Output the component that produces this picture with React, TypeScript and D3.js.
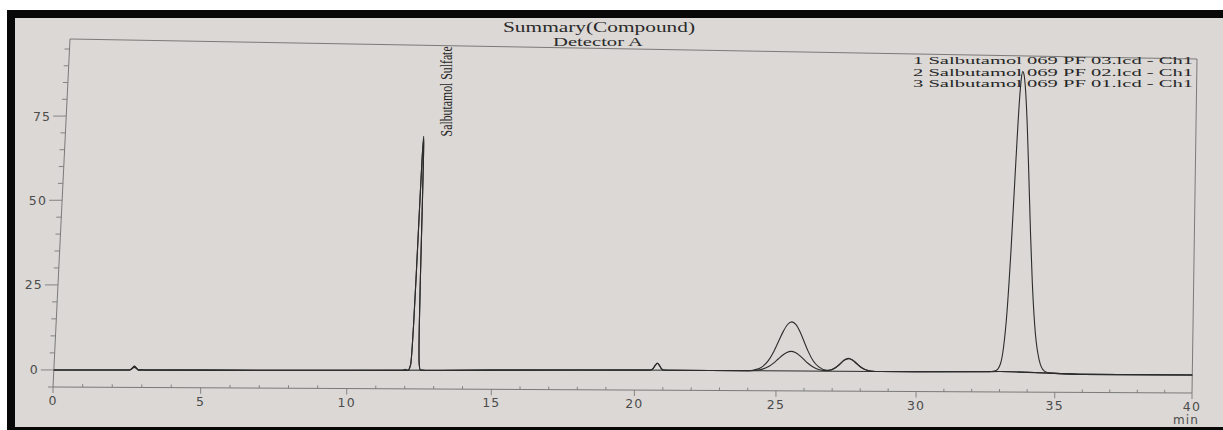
import React, { useEffect, useRef } from 'react';
import * as d3 from 'd3';

type Pt = [number, number];

// [retention time (min), signal]
const trace03: Pt[] = [
  [0, 0.0], [1.5, 0.05], [2.55, 0.1], [2.65, 0.7], [2.72, 1.3], [2.8, 0.6], [2.88, 0.1], [2.96, 0.3], [3.05, 0.12],
  [5, 0.2], [8, 0.3], [10, 0.4], [11.9, 0.5], [12.0, 0.8], [12.07, 0.5],
  [12.17, 2.2], [12.22, 14], [12.245, 28], [12.27, 47], [12.295, 63.5], [12.32, 70.5], [12.345, 63.5], [12.37, 47],
  [12.395, 28], [12.42, 14], [12.47, 2.2], [12.52, 0.6], [12.7, 0.5],
  [15, 0.7], [18, 0.9], [20.45, 1.0], [20.55, 1.05], [20.63, 1.45], [20.7, 2.4], [20.78, 3.1], [20.86, 2.4],
  [20.93, 1.45], [21.01, 1.05], [21.3, 1.0], [24.0, 1.0],
  [24.2, 1.22], [24.5, 2.26], [24.7, 4.05], [24.9, 7.08], [25.05, 9.98], [25.2, 12.84], [25.35, 15.0], [25.5, 15.8],
  [25.65, 15.0], [25.8, 12.84], [25.95, 9.98], [26.1, 7.08], [26.3, 4.05], [26.5, 2.26], [26.8, 1.25],
  [26.95, 1.45], [27.1, 2.1], [27.25, 3.2], [27.4, 4.4], [27.55, 4.9], [27.7, 4.45], [27.85, 3.4], [28.0, 2.3],
  [28.15, 1.6], [28.35, 1.15], [28.7, 1.0], [30, 1.0], [32.5, 1.1], [32.71, 1.2], [32.86, 1.5],
  [33.01, 3.4], [33.11, 8.2], [33.21, 18.8], [33.31, 37.5], [33.41, 62.1], [33.51, 84.2], [33.56, 90.9], [33.61, 93.2],
  [33.66, 92.1], [33.71, 88.8], [33.81, 76.9], [33.91, 60.5], [34.01, 43.3], [34.11, 28.3], [34.26, 12.6],
  [34.41, 4.9], [34.61, 1.4], [34.81, 0.8], [36, 0.5], [40, 0.5],
];

const trace02: Pt[] = [
  [0, 0.0], [1.5, 0.05], [2.55, 0.1], [2.65, 0.6], [2.72, 1.2], [2.8, 0.55], [2.88, 0.1], [2.96, 0.25], [3.05, 0.12],
  [5, 0.2], [8, 0.3], [10, 0.4], [12.1, 0.5],
  [12.17, 2.1], [12.22, 13.8], [12.245, 27.7], [12.27, 46.5], [12.295, 62.9], [12.32, 69.8], [12.345, 62.9], [12.37, 46.5],
  [12.395, 27.7], [12.42, 13.8], [12.47, 2.1], [12.52, 0.6], [12.7, 0.5],
  [15, 0.7], [18, 0.9], [20.45, 1.0], [20.55, 1.05], [20.63, 1.4], [20.7, 2.3], [20.78, 3.0], [20.86, 2.3],
  [20.93, 1.4], [21.01, 1.05], [21.3, 1.0], [24.0, 1.0],
  [24.2, 1.09], [24.5, 1.5], [24.7, 2.22], [24.9, 3.42], [25.05, 4.58], [25.2, 5.72], [25.35, 6.58], [25.5, 6.9],
  [25.65, 6.58], [25.8, 5.72], [25.95, 4.58], [26.1, 3.42], [26.3, 2.22], [26.5, 1.5], [26.8, 1.15],
  [26.95, 1.4], [27.1, 2.05], [27.25, 3.1], [27.4, 4.3], [27.55, 4.8], [27.7, 4.35], [27.85, 3.3], [28.0, 2.25],
  [28.15, 1.55], [28.35, 1.15], [28.7, 1.0], [30, 1.0], [32.5, 1.1], [33.0, 1.2], [34.0, 1.0], [34.8, 0.8],
  [36, 0.5], [40, 0.5],
];

const trace01: Pt[] = [
  [0, 0.0], [2.55, 0.1], [2.72, 0.9], [2.88, 0.1], [5, 0.2], [10, 0.4], [15, 0.7], [20, 1.0], [24, 1.0],
  [30, 1.0], [33, 1.2], [34.8, 0.8], [36, 0.5], [40, 0.5],
];

const legendLabels = [
  '1 Salbutamol 069 PF 03.lcd - Ch1',
  '2 Salbutamol 069 PF 02.lcd - Ch1',
  '3 Salbutamol 069 PF 01.lcd - Ch1',
];
const xTickLabels = [0, 5, 10, 15, 20, 25, 30, 35, 40];
const yTickLabels = [0, 25, 50, 75];
const peakName = 'Salbutamol Sulfate';

const W = 1223;
const H = 430;

// the page was photographed a bit off-square, so the plot frame is a quad
const TL: Pt = [70, 39];
const TR: Pt = [1197, 59];
const BR: Pt = [1192, 393];
const BL: Pt = [53, 387];

// unit square -> quad (projective)
function makeWarp(p0: Pt, p1: Pt, p2: Pt, p3: Pt) {
  const [x0, y0] = p0, [x1, y1] = p1, [x2, y2] = p2, [x3, y3] = p3;
  const dx1 = x1 - x2, dx2 = x3 - x2, dx3 = x0 - x1 + x2 - x3;
  const dy1 = y1 - y2, dy2 = y3 - y2, dy3 = y0 - y1 + y2 - y3;
  const den = dx1 * dy2 - dx2 * dy1;
  const g = (dx3 * dy2 - dx2 * dy3) / den;
  const h = (dx1 * dy3 - dx3 * dy1) / den;
  const a = x1 - x0 + g * x1, b = x3 - x0 + h * x3;
  const d = y1 - y0 + g * y1, e = y3 - y0 + h * y3;
  return (u: number, v: number): Pt => {
    const w = g * u + h * v + 1;
    return [(a * u + b * v + x0) / w, (d * u + e * v + y0) / w];
  };
}

const App: React.FC = () => {
  const ref = useRef<SVGSVGElement>(null);

  useEffect(() => {
    if (!ref.current) return;
    const svg = d3.select(ref.current);
    svg.selectAll('*').remove();

    // photo edges + paper
    svg.append('rect').attr('width', W).attr('height', H).attr('fill', '#ffffff');
    svg.append('rect').attr('x', 7).attr('y', 10).attr('width', W - 7).attr('height', H - 10).attr('fill', '#080808');
    svg.append('rect').attr('x', 15).attr('y', 18).attr('width', W - 15).attr('height', 409).attr('fill', '#dbd8d5');

    const x = d3.scaleLinear().domain([0, 40]).range([0, 1]);
    const y = d3.scaleLinear().domain([-5, 98]).range([1, 0]);
    const warp = makeWarp(TL, TR, BR, BL);
    const P = (t: number, v: number) => warp(x(t), y(v));

    const warpedLine = (pts: Pt[]) => {
      const p = d3.path();
      const ctx = {
        moveTo: (a: number, b: number) => p.moveTo(...warp(a, b)),
        lineTo: (a: number, b: number) => p.lineTo(...warp(a, b)),
        bezierCurveTo: (a: number, b: number, c: number, d: number, e: number, f: number) => {
          const [ax, ay] = warp(a, b);
          const [cx, cy] = warp(c, d);
          const [ex, ey] = warp(e, f);
          p.bezierCurveTo(ax, ay, cx, cy, ex, ey);
        },
        closePath: () => p.closePath(),
      };
      d3.line<Pt>()
        .x((dd) => x(dd[0]))
        .y((dd) => y(dd[1]))
        .curve(d3.curveMonotoneX)
        .context(ctx as any)(pts);
      return p.toString();
    };

    const frameColor = '#6f6f6f';
    const tickColor = '#7a7a7a';

    // frame
    svg
      .append('path')
      .attr('d', `M${TL}L${TR}L${BR}L${BL}Z`)
      .attr('fill', 'none')
      .attr('stroke', frameColor)
      .attr('stroke-width', 0.9);

    // y ticks
    const yAxis = svg.append('g').attr('stroke', tickColor).attr('stroke-width', 0.9);
    d3.range(-5, 96, 5).forEach((v) => {
      const [px, py] = P(0, v);
      const major = yTickLabels.includes(v);
      yAxis
        .append('line')
        .attr('x1', px - (major ? 13 : 5))
        .attr('x2', px)
        .attr('y1', py)
        .attr('y2', py);
    });
    yTickLabels.forEach((v) => {
      const [px, py] = P(0, v);
      svg
        .append('text')
        .attr('x', px - 15)
        .attr('y', py)
        .attr('dy', '0.36em')
        .attr('text-anchor', 'end')
        .attr('fill', '#4c4c4c')
        .style('font-family', 'DejaVu Sans')
        .style('font-size', '12.5px')
        .style('letter-spacing', '1.2px')
        .text(v);
    });

    // x ticks
    const xAxis = svg.append('g').attr('stroke', tickColor).attr('stroke-width', 0.9);
    d3.range(0, 41, 1).forEach((t) => {
      const [px, py] = P(t, -5);
      const major = xTickLabels.includes(t);
      xAxis
        .append('line')
        .attr('x1', px)
        .attr('x2', px)
        .attr('y1', major ? py : py - 3)
        .attr('y2', major ? py + 6 : py);
    });
    xTickLabels.forEach((t) => {
      const [px, py] = P(t, -5);
      svg
        .append('text')
        .attr('x', px)
        .attr('y', py + 18)
        .attr('text-anchor', 'middle')
        .attr('fill', '#4c4c4c')
        .style('font-family', 'DejaVu Sans')
        .style('font-size', '12.5px')
        .style('letter-spacing', '1.2px')
        .text(t);
    });
    const [mx, my] = P(40, -5);
    svg
      .append('text')
      .attr('x', mx - 6)
      .attr('y', my + 31)
      .attr('text-anchor', 'middle')
      .attr('fill', '#4c4c4c')
      .style('font-family', 'DejaVu Sans')
      .style('font-size', '12px')
      .style('letter-spacing', '1.2px')
      .text('min');

    // traces
    [trace01, trace02, trace03].forEach((tr) => {
      svg
        .append('path')
        .attr('d', warpedLine(tr))
        .attr('fill', 'none')
        .attr('stroke', '#2c2c2c')
        .attr('stroke-width', 1.1)
        .attr('stroke-linejoin', 'round');
    });

    // peak name at the apex of the Salbutamol peak
    const apex = d3.greatest(trace03.filter((d) => d[0] < 15), (d) => d[1])!;
    const [ax, ay] = P(apex[0], apex[1]);
    svg
      .append('text')
      .attr('transform', `translate(${ax + 28},${ay}) rotate(-90)`)
      .attr('fill', '#262626')
      .attr('textLength', 90)
      .attr('lengthAdjust', 'spacingAndGlyphs')
      .style('font-family', 'Liberation Serif')
      .style('font-size', '17px')
      .text(peakName);

    // titles
    svg
      .append('text')
      .attr('x', 599)
      .attr('y', 32)
      .attr('text-anchor', 'middle')
      .attr('fill', '#2a2a2a')
      .attr('textLength', 192)
      .attr('lengthAdjust', 'spacingAndGlyphs')
      .style('font-family', 'Liberation Serif')
      .style('font-size', '14.5px')
      .text('Summary(Compound)');
    svg
      .append('text')
      .attr('x', 598)
      .attr('y', 45.5)
      .attr('text-anchor', 'middle')
      .attr('fill', '#2a2a2a')
      .attr('textLength', 90)
      .attr('lengthAdjust', 'spacingAndGlyphs')
      .style('font-family', 'Liberation Serif')
      .style('font-size', '13.5px')
      .text('Detector A');

    // legend (tight stack, as printed)
    legendLabels.forEach((label, i) => {
      svg
        .append('text')
        .attr('x', 913)
        .attr('y', 64 + i * 11.5)
        .attr('fill', '#262626')
        .attr('textLength', 280)
        .attr('lengthAdjust', 'spacingAndGlyphs')
        .style('font-family', 'Liberation Serif')
        .style('font-size', '10.5px')
        .text(label);
    });
  }, []);

  return (
    <svg
      ref={ref}
      width={W}
      height={H}
      style={{ position: 'absolute', left: 0, top: 0, display: 'block' }}
    />
  );
};

export default App;
